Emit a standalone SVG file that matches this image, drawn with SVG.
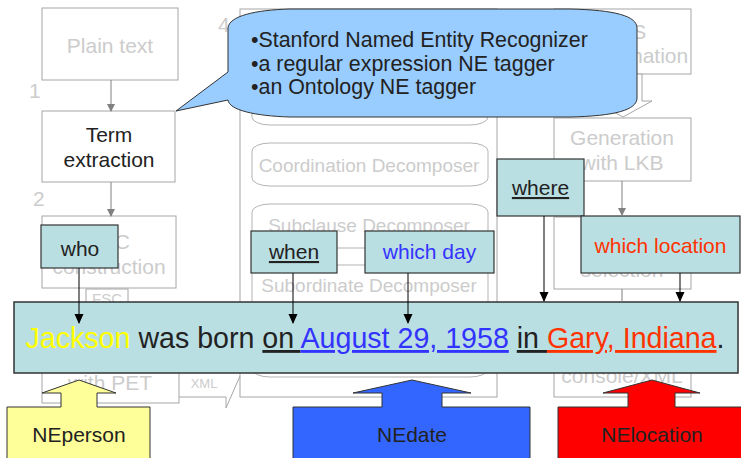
<svg xmlns="http://www.w3.org/2000/svg" width="741" height="458" viewBox="0 0 741 458">
<style>
text{font-family:"Liberation Sans",Arial,sans-serif}
.bgbox{fill:#ffffff;stroke:#a6a6a6;stroke-width:1}
.bgt{fill:#cccccc;font-size:21px;text-anchor:middle}
.dec{fill:#ffffff;stroke:#b3b3b3;stroke-width:1}
.dect{fill:#cccccc;font-size:19px;text-anchor:middle}
.num{fill:#cccccc;font-size:21px}
.lab{fill:#badfe2;stroke:#333333;stroke-width:1.2}
.labt{fill:#222222;font-size:21px;text-anchor:middle}
.gc{stroke:#808080;stroke-width:1;fill:none}
.bc{stroke:#000000;stroke-width:1;fill:none}
.blk{stroke:#333333;stroke-width:1}
</style>
<defs>
<marker id="ag" markerWidth="8" markerHeight="8" refX="7" refY="4" orient="auto" markerUnits="userSpaceOnUse"><path d="M0,0 L8,4 L0,8 Z" fill="#808080"/></marker>
<marker id="ab" markerWidth="10" markerHeight="10" refX="9" refY="5" orient="auto" markerUnits="userSpaceOnUse"><path d="M0,0.5 L10,5 L0,9.5 Z" fill="#000000"/></marker>
</defs>

<!-- background pipeline -->
<g id="plain-text"><rect class="bgbox" x="42" y="8" width="136" height="72"/><text class="bgt" x="110" y="53">Plain text</text></g>
<text class="num" x="29" y="98">1</text>
<g id="term-extraction"><rect class="bgbox" x="42" y="111" width="133" height="71"/><text class="labt" x="109" y="142">Term</text><text class="labt" x="109" y="167">extraction</text></g>
<text class="num" x="33" y="206">2</text>
<g id="fsc-construction"><rect class="bgbox" x="42" y="216" width="134" height="72"/><text class="bgt" x="109" y="249">FSC</text><text class="bgt" x="109" y="274">construction</text></g>
<g id="fsc-small"><rect class="bgbox" x="86" y="289" width="42" height="20"/><text class="bgt" style="font-size:15px" x="107" y="304">FSC</text></g>
<g id="parsing-pet"><rect class="bgbox" x="42" y="330" width="137" height="73"/><text class="bgt" x="110" y="390">with PET</text></g>
<text class="bgt" style="font-size:13px" x="204" y="388">XML</text>

<g id="mrs-decomposition">
<rect class="bgbox" x="240" y="9" width="257" height="388" stroke="#b3b3b3"/>
<text class="num" x="218" y="32">4</text>
<rect class="dec" x="252" y="80" width="236" height="45" rx="18" ry="8"/>
<rect class="dec" x="252" y="143" width="236" height="43" rx="18" ry="8"/>
<text class="dect" x="369" y="172">Coordination Decomposer</text>
<rect class="dec" x="252" y="204" width="236" height="44" rx="18" ry="8"/>
<text class="dect" x="369" y="232">Subclause Decomposer</text>
<rect class="dec" x="252" y="265" width="236" height="112" rx="18" ry="8"/>
<text class="dect" x="369" y="292">Subordinate Decomposer</text>
</g>
<path d="M179,397 L226,397 L226,408 L240,376" fill="none" stroke="#a6a6a6" stroke-width="1"/>

<g id="mrs-transformation"><rect class="bgbox" x="554" y="9" width="137" height="65"/><text class="num" x="524" y="24">5</text><text class="bgt" x="623" y="39">MRS</text><text class="bgt" x="618" y="63">Transformation</text></g>
<polygon points="604,74 642,74 642,101 652,101 623,117 594,101 604,101" fill="#ffffff" stroke="#a6a6a6" stroke-width="1"/>
<g id="generation-lkb"><rect class="bgbox" x="554" y="118" width="137" height="63"/><text class="bgt" x="622" y="145">Generation</text><text class="bgt" x="622" y="170">with LKB</text></g>
<g id="output-selection"><rect class="bgbox" x="554" y="217" width="137" height="72"/><text class="bgt" x="622" y="277">selection</text></g>
<g id="output-console"><rect class="bgbox" x="554" y="330" width="137" height="67"/><text class="bgt" x="622" y="383">console/XML</text></g>

<!-- callout -->
<g id="ne-callout">
<path d="M290,9 L570,9 C615,10 637,16 637,28 L637,98 C637,110 615,116 570,117 L290,117 C255,116 229,110 228,100 L176,111 L228,72 L228,28 C229,16 255,10 290,9 Z" fill="#99ccff" stroke="#333333" stroke-width="1"/>
<text x="251" y="47" fill="#222222" font-size="21.4">•Stanford Named Entity Recognizer</text>
<text x="251" y="70.5" fill="#222222" font-size="21.4">•a regular expression NE tagger</text>
<text x="251" y="94" fill="#222222" font-size="21.4">•an Ontology NE tagger</text>
</g>

<!-- question word labels -->
<g id="who"><rect class="lab" x="41" y="225" width="77" height="43"/><text class="labt" x="80" y="256">who</text></g>
<g id="when"><rect class="lab" x="251" y="231" width="86" height="42"/><text class="labt" x="294" y="259" text-decoration="underline">when</text></g>
<g id="which-day"><rect class="lab" x="365" y="231" width="129" height="42"/><text class="labt" x="429.5" y="259" style="fill:#3333ff">which day</text></g>
<g id="where"><rect class="lab" x="497" y="159" width="87" height="57"/><text class="labt" x="540.5" y="195" text-decoration="underline">where</text></g>
<g id="which-location"><rect class="lab" x="581" y="216" width="159" height="57"/><text class="labt" x="660.5" y="253" style="fill:#ff3300">which location</text></g>

<!-- main sentence -->
<g id="sentence">
<rect x="14" y="302" width="724" height="71" fill="#badfe2" stroke="#333333" stroke-width="1.5"/>
<text x="375" y="348" font-size="28.6" text-anchor="middle" fill="#222222"><tspan fill="#ffff00">Jackson</tspan> was born <tspan text-decoration="underline">on </tspan><tspan fill="#3333ff" text-decoration="underline">August 29, 1958</tspan> <tspan text-decoration="underline">in </tspan><tspan fill="#ff3300" text-decoration="underline">Gary, Indiana</tspan>.</text>
</g>

<!-- connectors -->
<g id="connectors">
<line class="gc" x1="111" y1="80" x2="111" y2="111" marker-end="url(#ag)"/>
<line class="gc" x1="111" y1="182" x2="111" y2="216" marker-end="url(#ag)"/>
<line class="gc" x1="622" y1="181" x2="622" y2="215" marker-end="url(#ag)"/>
<line class="gc" x1="622" y1="289" x2="622" y2="302"/>
<line class="bc" x1="79" y1="268" x2="79" y2="323" marker-end="url(#ab)"/>
<line class="bc" x1="293" y1="273" x2="293" y2="323" marker-end="url(#ab)"/>
<line class="bc" x1="408" y1="273" x2="408" y2="323" marker-end="url(#ab)"/>
<line class="bc" x1="544" y1="216" x2="544" y2="301" marker-end="url(#ab)"/>
<line class="bc" x1="680" y1="273" x2="680" y2="301" marker-end="url(#ab)"/>
</g>

<!-- NE type block arrows -->
<g id="ne-person">
<polygon class="blk" fill="#ffff99" points="7,470 7,407 61,407 61,393 42,393 79,380 116,393 97,393 97,407 150,407 150,470"/>
<text class="labt" x="79" y="442">NEperson</text>
</g>
<g id="ne-date">
<polygon class="blk" fill="#3366ff" points="293,470 293,407 382,407 382,393 353,393 412,380 471,393 442,393 442,407 530,407 530,470"/>
<text class="labt" x="412" y="442">NEdate</text>
</g>
<g id="ne-location">
<polygon class="blk" fill="#ff0000" points="558,470 558,407 628,407 628,393 603,393 652,380 700,393 675,393 675,407 760,407 760,470"/>
<text class="labt" x="652" y="442">NElocation</text>
</g>
</svg>
